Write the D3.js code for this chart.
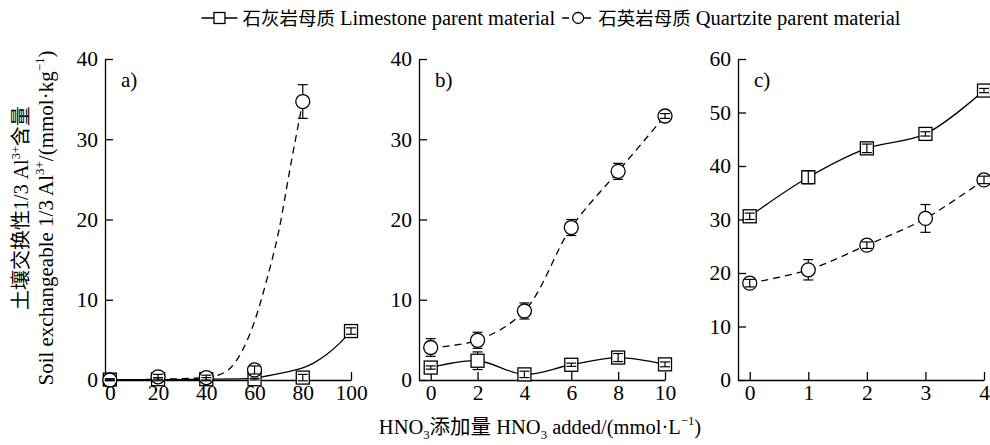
<!DOCTYPE html>
<html>
<head>
<meta charset="utf-8">
<script src="https://cdn.jsdelivr.net/npm/d3@7"></script>
<style>
  body { margin: 0; background: #fff; }
  svg text { font-family: "Liberation Serif", "Noto Sans CJK SC", serif; fill: #000; }
</style>
</head>
<body>
<svg id="chart" width="990" height="445"></svg>
<script>

// ---- data ----
// panel a) HNO3 0-100
var xA = [0, 20, 40, 60, 80, 100];
var limeA = [0.05, 0.1, 0.1, 0.1, 0.3, 6.1];
var limeAErr = [0.1, 0.2, 0.2, 0.1, 0.4, 0.4];
var xAQ = [0, 20, 40, 60, 80];
var quartzA = [0, 0.4, 0.3, 1.25, 34.7];
var quartzAErr = [0.1, 0.3, 0.3, 0.5, 2.1];
// fitted curves of panel a) (read off the figure)
var limeAFitX = [0, 20, 40, 60, 65, 70, 75, 80, 85, 90, 95, 100];
var limeAFit = [0.05, 0.05, 0.1, 0.2, 0.5, 0.8, 1.1, 1.5, 2.2, 3.2, 4.5, 6.1];
var quartzAFitX = [0, 20, 40, 45, 50, 55, 60, 65, 70, 75, 80];
var quartzAFit = [0, 0.1, 0.3, 0.6, 1.5, 3.7, 7.3, 12.4, 18.5, 26.8, 34.7];

// panel b) HNO3 0-10
var xB = [0, 2, 4, 6, 8, 10];
var limeB = [1.55, 2.4, 0.7, 1.9, 2.8, 1.95];
var limeBErr = [0.2, 1.1, 0.4, 0.2, 0.5, 0.3];
var quartzB = [4.05, 4.95, 8.6, 19.0, 26.0, 32.9];
var quartzBErr = [1.1, 1.0, 1.0, 1.0, 1.0, 0.3];

// panel c) HNO3 0-4
var xC = [0, 1, 2, 3, 4];
var limeC = [30.6, 37.9, 43.3, 46.0, 54.1];
var limeCErr = [0.6, 1.2, 0.8, 0.4, 0.4];
var quartzC = [18.1, 20.6, 25.2, 30.2, 37.4];
var quartzCErr = [0.7, 1.9, 0.6, 2.6, 0.7];

var yTicks40 = [0, 10, 20, 30, 40];
var yTicks60 = [0, 10, 20, 30, 40, 50, 60];

var legendLime = ["石灰岩母质", "Limestone parent material"];
var legendQuartz = ["石英岩母质", "Quartzite parent material"];

// ---- layout ----
var svg = d3.select("#chart");
var plotTop = 59, plotBottom = 380, plotWidth = 246;
var sq = 6.5, cr = 7, capW = 5;
var serif = "Liberation Serif, Noto Sans CJK SC, serif";

function zip(xs, ys, es) {
	return xs.map(function(x, i) { return { x: x, y: ys[i], e: es ? es[i] : 0 }; });
}

var panels = [
	{ left: 105, xDomain: [-2, 100], xTicks: xA, yMax: 40, yTicks: yTicks40, label: "a)",
	  lime: zip(xA, limeA, limeAErr), quartz: zip(xAQ, quartzA, quartzAErr),
	  limeLine: zip(limeAFitX, limeAFit), quartzLine: zip(quartzAFitX, quartzAFit),
	  curve: d3.curveMonotoneX },
	{ left: 419, xDomain: [-0.5, 10], xTicks: xB, yMax: 40, yTicks: yTicks40, label: "b)",
	  lime: zip(xB, limeB, limeBErr), quartz: zip(xB, quartzB, quartzBErr),
	  limeLine: zip(xB, limeB), quartzLine: zip(xB, quartzB),
	  curve: d3.curveCatmullRom },
	{ left: 738, xDomain: [-0.2, 4], xTicks: xC, yMax: 60, yTicks: yTicks60, label: "c)",
	  lime: zip(xC, limeC, limeCErr), quartz: zip(xC, quartzC, quartzCErr),
	  limeLine: zip(xC, limeC), quartzLine: zip(xC, quartzC),
	  curve: d3.curveCatmullRom }
];

panels.forEach(function(p) {
	var x = d3.scaleLinear().domain(p.xDomain).range([p.left, p.left + plotWidth]);
	var y = d3.scaleLinear().domain([0, p.yMax]).range([plotBottom, plotTop]);
	var g = svg.append("g");

	// axes, ticks pointing inward
	g.append("g")
		.attr("transform", "translate(0," + plotBottom + ")")
		.call(d3.axisBottom(x).tickValues(p.xTicks).tickFormat(d3.format("d"))
			.tickSizeInner(-8).tickSizeOuter(0).tickPadding(5))
		.call(styleAxis);
	g.append("g")
		.attr("transform", "translate(" + p.left + ",0)")
		.call(d3.axisLeft(y).tickValues(p.yTicks).tickSizeInner(-8).tickSizeOuter(0).tickPadding(7))
		.call(styleAxis);

	g.append("text")
		.attr("x", p.left + 16)
		.attr("y", 87)
		.attr("font-family", serif)
		.attr("fill", "#000")
		.style("font-size", "21px")
		.text(p.label);

	var line = d3.line()
		.x(function(d) { return x(d.x); })
		.y(function(d) { return y(d.y); })
		.curve(p.curve);

	g.append("path").attr("d", line(p.limeLine))
		.attr("fill", "none").attr("stroke", "#000").attr("stroke-width", 1.3);
	g.append("path").attr("d", line(p.quartzLine))
		.attr("fill", "none").attr("stroke", "#000").attr("stroke-width", 1.3)
		.attr("stroke-dasharray", "7,5");

	// markers
	g.selectAll(".sq").data(p.lime).enter().append("rect")
		.attr("x", function(d) { return x(d.x) - sq; })
		.attr("y", function(d) { return y(d.y) - sq; })
		.attr("width", sq * 2).attr("height", sq * 2)
		.attr("fill", "#fff").attr("stroke", "#000").attr("stroke-width", 1.3);
	g.selectAll(".ci").data(p.quartz).enter().append("circle")
		.attr("cx", function(d) { return x(d.x); })
		.attr("cy", function(d) { return y(d.y); })
		.attr("r", cr)
		.attr("fill", "#fff").attr("stroke", "#000").attr("stroke-width", 1.3);

	errorBars(g, p.lime, x, y, sq);
	errorBars(g, p.quartz, x, y, cr);
});

function styleAxis(sel) {
	sel.select(".domain").attr("stroke", "#000").attr("stroke-width", 1.3);
	sel.selectAll(".tick line").attr("stroke", "#000").attr("stroke-width", 1.3);
	sel.selectAll(".tick text").style("font-size", "21.5px").attr("fill", "#000")
		.style("font-family", "Liberation Serif");
}

function errorBars(g, data, x, y, half) {
	data.forEach(function(d) {
		var cx = x(d.x), cy = y(d.y);
		var e = Math.abs(y(d.y + d.e) - cy);
		var segs = e > half ? [[cy - e, cy - half], [cy + half, cy + e]] : [[cy - e, cy + e]];
		segs.forEach(function(s) {
			g.append("line").attr("x1", cx).attr("x2", cx).attr("y1", s[0]).attr("y2", s[1])
				.attr("stroke", "#000").attr("stroke-width", 1.2);
		});
		[cy - e, cy + e].forEach(function(cyy) {
			g.append("line").attr("x1", cx - capW).attr("x2", cx + capW).attr("y1", cyy).attr("y2", cyy)
				.attr("stroke", "#000").attr("stroke-width", 1.2);
		});
	});
}

// text with super/subscripts: parts = [[text, "n"|"sup"|"sub"], ...]
function richText(t, parts, size) {
	t.attr("font-family", serif).attr("fill", "#000");
	var shift = 0;
	parts.forEach(function(part) {
		var target = part[1] == "sup" ? -0.42 * size : part[1] == "sub" ? 0.25 * size : 0;
		t.append("tspan")
			.attr("dy", target - shift)
			.style("font-size", part[1] == "n" ? size + "px" : (size * 0.62) + "px")
			.text(part[0]);
		shift = target;
	});
}

// y axis title (two lines); opacity keeps the rotated CJK glyphs grey-scale
var yTitle1 = svg.append("text")
	.attr("transform", "translate(28,208) rotate(-90)")
	.attr("text-anchor", "middle")
	.style("opacity", 0.999);
richText(yTitle1, [["土壤交换性1/3 Al", "n"], ["3+", "sup"], ["含量", "n"]], 20);

var yTitle2 = svg.append("text")
	.attr("transform", "translate(53,218) rotate(-90)")
	.attr("text-anchor", "middle");
richText(yTitle2, [["Soil exchangeable 1/3 Al", "n"], ["3+", "sup"], ["/(mmol·kg", "n"], ["−1", "sup"], [")", "n"]], 21);

// x axis title
var xTitle = svg.append("text")
	.attr("x", 540)
	.attr("y", 434)
	.attr("text-anchor", "middle");
richText(xTitle, [["HNO", "n"], ["3", "sub"], ["添加量 HNO", "n"], ["3", "sub"], [" added/(mmol·L", "n"], ["−1", "sup"], [")", "n"]], 20.5);

// legend, centred over the plotting area
var legend = svg.append("g").attr("transform", "translate(0,18)");

function legendText(x0, parts) {
	var t = legend.append("text").attr("x", x0).attr("y", 7)
		.attr("font-family", serif).attr("fill", "#000");
	t.append("tspan").style("font-size", "18.5px").text(parts[0]);
	t.append("tspan").attr("dx", 5).style("font-size", "20.5px").text(parts[1]);
	return t;
}

var t1 = legendText(0, legendLime);
var t2 = legendText(0, legendQuartz);
var w1 = t1.node().getComputedTextLength(), w2 = t2.node().getComputedTextLength();
var total = 36 + 5 + w1 + 12 + 34 + 5 + w2;
var lx = 550 - total / 2;

legend.append("line").attr("x1", lx).attr("x2", lx + 36).attr("y1", 0).attr("y2", 0)
	.attr("stroke", "#000").attr("stroke-width", 1.3);
legend.append("rect").attr("x", lx + 18 - 5.5).attr("y", -5.5).attr("width", 11).attr("height", 11)
	.attr("fill", "#fff").attr("stroke", "#000").attr("stroke-width", 1.3);
t1.attr("x", lx + 41);

var qx = lx + 41 + w1 + 12;
legend.append("line").attr("x1", qx).attr("x2", qx + 29).attr("y1", 0).attr("y2", 0)
	.attr("stroke", "#000").attr("stroke-width", 1.3).attr("stroke-dasharray", "7,4");
legend.append("circle").attr("cx", qx + 16).attr("cy", 0).attr("r", 5.5)
	.attr("fill", "#fff").attr("stroke", "#000").attr("stroke-width", 1.3);
t2.attr("x", qx + 36);

</script>
</body>
</html>
